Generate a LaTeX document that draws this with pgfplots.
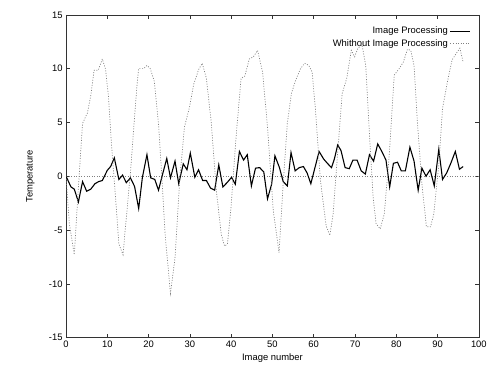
\documentclass[border=0pt]{standalone}
\usepackage{fontspec}
\setmainfont{Liberation Sans}
\usepackage{pgfplots}
\pgfplotsset{compat=1.18}
\begin{document}
\begin{tikzpicture}
\begin{axis}[
  scale only axis,
  width=417pt, height=326pt,
  at={(0,0)}, anchor=south west,
  xmin=0, xmax=100, ymin=-15, ymax=15,
  xtick={0,10,...,100}, ytick={-15,-10,...,15},
  tick align=inside, major tick length=4pt,
  axis line style={black!80, line width=0.6pt},
  every tick/.style={black!80, line width=0.5pt},
  /pgf/number format/assume math mode=true,
  tick label style={font=\fontsize{9.5}{11}\selectfont},
  xlabel={Image number}, ylabel={Temperature},
  every axis x label/.style={at={(axis description cs:0.5,0)}, yshift=-20.5pt, anchor=center, font=\fontsize{9.5}{11}\selectfont},
  every axis y label/.style={at={(axis description cs:0,0.5)}, xshift=-36pt, rotate=90, anchor=center, font=\fontsize{9.5}{11}\selectfont},
  legend plot pos=right,
  legend cell align=right,
  legend image code/.code={\draw[#1] (0pt,0pt) -- (20pt,0pt);},
  legend style={draw=none, fill=none, at={(1,1)}, anchor=north east, xshift=-8pt, yshift=-10pt, inner sep=0pt, row sep=0.5pt, font=\fontsize{9.5}{11}\selectfont, /tikz/every even column/.style={column sep=3pt}},
]
\addplot[black!50, line width=0.7pt, dash pattern=on 1pt off 1.6pt, forget plot] coordinates {(0,0) (100,0)};
\addplot[black, line width=1.1pt] coordinates {
(0,0) (1.2,-1.0) (2,-1.2) (3,-2.4) (4,-0.5) (5,-1.4) (6,-1.2) (7,-0.7) (7.9,-0.5) (8.8,-0.4)
(10,0.55) (10.8,0.9) (11.7,1.7) (12.8,-0.3) (13.7,0.1) (14.6,-0.6) (15.6,-0.15) (16.6,-0.95) (17.6,-3.0) (18.5,-0.1)
(19.6,2.0) (20.5,-0.15) (21.5,-0.3) (22.4,-1.3) (23.4,0.2) (24.4,1.65) (25.3,-0.15) (26.4,1.4) (27.3,-0.7) (28.4,1.15)
(29.3,0.6) (30.1,2.15) (31.2,-0.1) (32.1,0.6) (33.1,-0.4) (34,-0.4) (35,-1.1) (36,-1.3) (37,1.05) (38,-1.0)
(39,-0.6) (40.1,-0.1) (41,-0.75) (42,2.3) (43,1.5) (43.9,2.0) (44.9,-0.9) (45.9,0.75) (46.9,0.8) (47.9,0.4)
(48.8,-2.1) (49.8,-0.75) (50.6,1.9) (51.7,0.8) (52.6,-0.5) (53.6,-0.9) (54.5,2.2) (55.5,0.5) (56.5,0.8) (57.5,0.9)
(58.4,0.3) (59.3,-0.7) (60.3,0.8) (61.3,2.3) (62.4,1.6) (63.3,1.2) (64.3,0.8) (65,1.6) (65.8,2.9) (66.6,2.4)
(67.6,0.8) (68.6,0.7) (69.5,1.5) (70.5,1.5) (71.5,0.5) (72.5,0.2) (73.5,2.0) (74.5,1.4) (75.5,3.0) (76.5,2.3)
(77.5,1.5) (78.4,-1.0) (79.3,1.2) (80.3,1.3) (81.2,0.5) (82.2,0.5) (83.3,2.7) (84.3,1.4) (85.3,-1.3) (86.2,0.75)
(87.2,0) (88.2,0.6) (89.2,-0.9) (90.3,2.5) (91.2,-0.3) (92.2,0.3) (93.2,1.2) (94.3,2.3) (95.3,0.65) (96.2,0.9)
};
\addlegendentry{Image Processing}
\addplot[black!50, line width=0.7pt, dash pattern=on 1pt off 1.6pt] coordinates {
(0,0) (0.8,-4.4) (2,-7.3) (3,-1.0) (4,4.9) (5.2,5.9) (6,7.5) (6.8,9.85) (7.8,9.85) (8.8,10.9)
(9.6,9.9) (10.3,7.3) (11,3) (12,-2) (12.8,-6.3) (13.8,-7.3) (14.4,-4.7) (15.6,0.3) (16.5,5) (17.2,8.5)
(17.6,10) (18.8,10) (19.6,10.3) (20.4,10) (21.4,8.8) (22.4,4.9) (23.2,0) (24,-5.4) (25.3,-10.9) (26.4,-7.6)
(27.6,0) (28.7,4.6) (29.9,6.4) (30.9,8.5) (32.1,9.9) (33,10.5) (34,9.1) (35.2,4.9) (36.4,-1.3) (37.6,-5.4)
(38.4,-6.5) (39.1,-6.3) (39.9,-3.2) (41.2,3.7) (42.4,9.1) (43.3,9.3) (44.4,10.9) (45.4,11.1) (46.4,11.7) (47.6,9.7)
(48.8,4.6) (50.2,-3.2) (51.6,-7.1) (52.6,-0.7) (53.6,4.9) (54.6,7.7) (55.6,8.9) (56.8,10) (57.8,10.5) (58.8,10.3)
(59.6,9.7) (60.4,6.3) (61.6,-0.3) (63,-4.6) (63.9,-5.5) (64.7,-3.5) (65.7,1.7) (66.9,7.7) (68,9.1) (69.1,11.7)
(69.9,11.1) (70.7,11.9) (71.7,12.2) (72.6,10.3) (73.6,3.2) (74.4,-2.0) (75.1,-4.4) (76.1,-4.9) (77.1,-3.5) (78.3,2.0)
(79.5,9.4) (80.7,10.0) (81.7,10.6) (82.7,11.8) (83.5,11.7) (84.3,10.3) (85.1,5.1) (86.2,-0.7) (87.3,-4.7) (88.3,-4.7)
(89.1,-3.5) (90.3,1.1) (91.2,6.3) (92.4,8.8) (93.5,10.8) (94.5,11.4) (95.4,11.9) (96.2,10.6)
};
\addlegendentry{Whithout Image Processing}
\end{axis}
\path[use as bounding box] (-66.7pt,-28.3pt) rectangle (423.5pt,341pt);
\end{tikzpicture}
\end{document}
